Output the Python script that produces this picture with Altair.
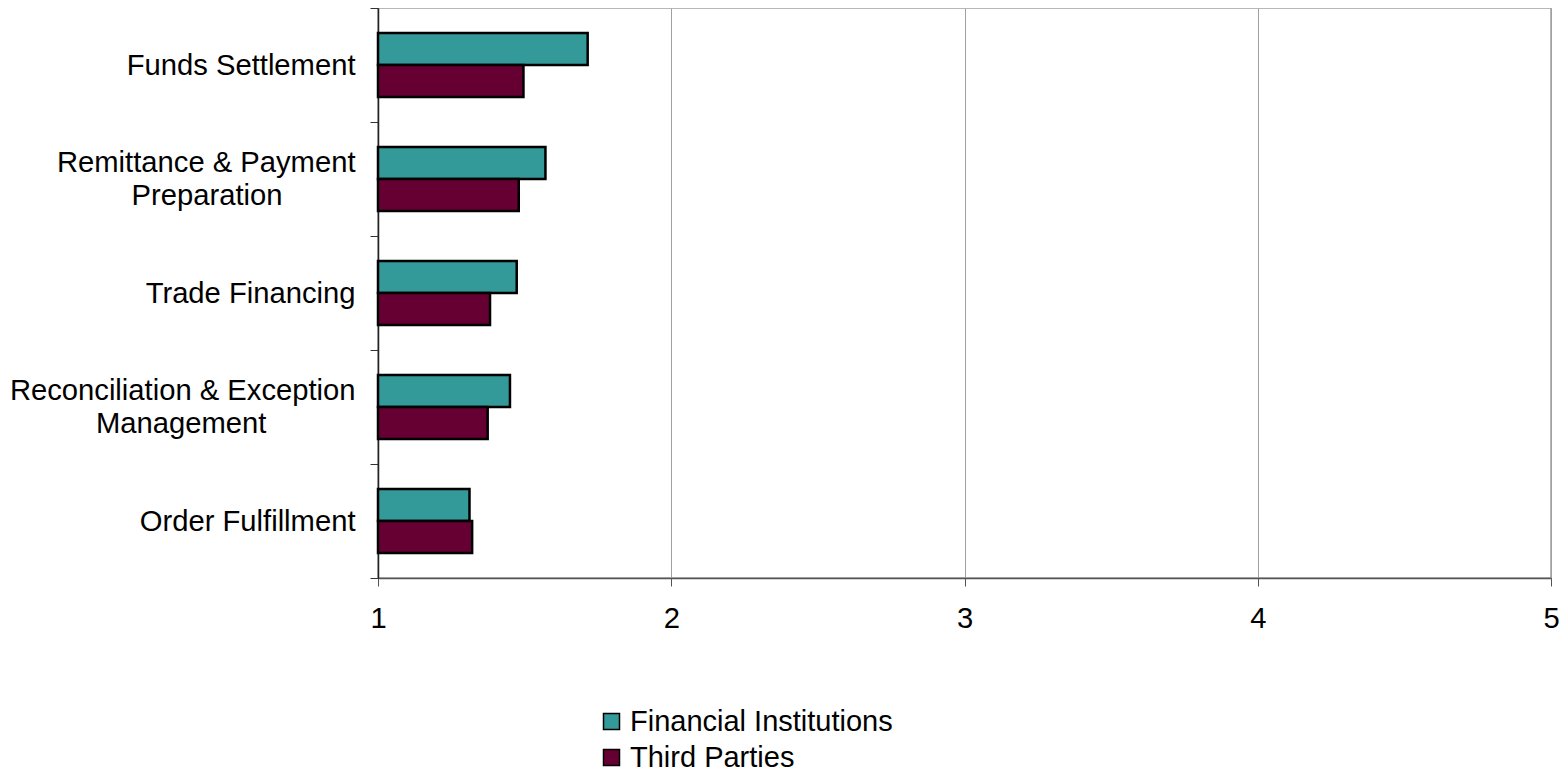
import altair as alt
import pandas as pd

categories = ["Funds Settlement", "Remittance & Payment Preparation", "Trade Financing",
              "Reconciliation & Exception Management", "Order Fulfillment"]
label_lines = {
    "Funds Settlement": ["Funds Settlement"],
    "Remittance & Payment Preparation": ["Remittance & Payment", "Preparation" + "\u00a0" * 9 + "\u200b"],
    "Trade Financing": ["Trade Financing"],
    "Reconciliation & Exception Management": ["Reconciliation & Exception", "Management" + "\u00a0" * 11 + "\u200b"],
    "Order Fulfillment": ["Order Fulfillment"],
}
series = ["Financial Institutions", "Third Parties"]
fi_values = [1.715, 1.571, 1.473, 1.45, 1.312]
tp_values = [1.496, 1.48, 1.382, 1.374, 1.321]
colors = ["#339999", "#660033"]
x_ticks = [1, 2, 3, 4, 5]

rows = []
for c, v in zip(categories, fi_values):
    rows.append({"cat": c, "series": series[0], "value": v, "base": 1})
for c, v in zip(categories, tp_values):
    rows.append({"cat": c, "series": series[1], "value": v, "base": 1})
df = pd.DataFrame(rows)

expr_parts = []
multi = []
for c in categories:
    lines = label_lines[c]
    if len(lines) > 1:
        multi.append(c)
    arr = "[" + ",".join("'" + l + "'" for l in lines) + "]"
    expr_parts.append(f"datum.label == '{c}' ? {arr}")
label_expr = " : ".join(expr_parts) + " : datum.label"
multi_test = " || ".join(f"datum.value == '{c}'" for c in multi)

font = "Liberation Sans"
fs = 29.2
line_h = 33

chart = alt.Chart(df).mark_bar(stroke="black", strokeWidth=2.5).encode(
    x=alt.X("value:Q", scale=alt.Scale(domain=[1, 5], nice=False, zero=False),
            axis=alt.Axis(values=x_ticks, title=None, grid=True, gridColor="#a0a0a0",
                          gridWidth=1, domainColor="#555555", domainWidth=1.5,
                          tickColor="#555555", tickSize=8, labelFontSize=fs,
                          labelFont=font, labelColor="black", labelPadding=18,
                          labelFlush=False, format="d")),
    x2="base:Q",
    y=alt.Y("cat:N", sort=categories,
            scale=alt.Scale(paddingInner=0, paddingOuter=0),
            axis=alt.Axis(title=None, tickBand="extent", tickSize=8, tickColor="#333333",
                          domainColor="#222222", domainWidth=1.5, labelFontSize=fs,
                          labelFont=font, labelColor="black", labelPadding=15,
                          labelLimit=600, labelExpr=label_expr, labelLineHeight=line_h,
                          labelOffset={"condition": {"test": multi_test, "value": -line_h / 2},
                                       "value": 0})),
    yOffset=alt.YOffset("series:N", sort=series,
                        scale=alt.Scale(paddingInner=0, paddingOuter=0.785)),
    fill=alt.Fill("series:N", sort=series,
                  scale=alt.Scale(domain=series, range=colors),
                  legend=alt.Legend(title=None, orient="none", legendX=219, legendY=699,
                                    direction="vertical", symbolType="square",
                                    symbolSize=256, symbolStrokeColor="black",
                                    symbolStrokeWidth=1.5, labelFontSize=29,
                                    labelFont=font, labelColor="black", labelLimit=500,
                                    rowPadding=6, labelOffset=4)),
).properties(
    width=1173, height=570,
    autosize=alt.AutoSizeParams(type="none"),
    padding={"left": 370, "top": 0, "right": 9, "bottom": 194},
).configure_view(
    stroke="#a0a0a0", strokeWidth=1.5
)

chart.save("out.html", embed_options={"renderer": "svg", "actions": False})
